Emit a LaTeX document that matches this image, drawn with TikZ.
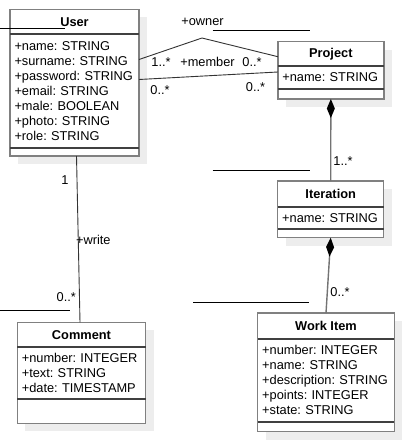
\documentclass[tikz,border=0pt]{standalone}
\usepackage{fontspec}
\setmainfont{Liberation Sans}
\usetikzlibrary{shapes, arrows.meta, positioning, shadows}

\tikzset{
  umlshadow/.style={general shadow={fill=black!7, shadow xshift=8pt, shadow yshift=-8pt}},
  classname/.style={draw=black!50, line width=1.5pt, fill=white, inner sep=0pt, outer sep=0pt, font=\bfseries, umlshadow},
  classattr/.style={draw=black!50, line width=1.5pt, fill=white, inner xsep=4.5pt, inner ysep=0pt, outer sep=0pt, align=left, umlshadow},
  classops/.style={draw=black!50, line width=1.5pt, fill=white, inner sep=0pt, outer sep=0pt, umlshadow},
  sep/.style={draw=black!75, line width=2pt},
  assoc/.style={draw=black!80, line width=0.9pt},
  compose/.style={draw=black!55, line width=1.4pt, {Diamond[length=19pt, width=8pt, black]}-},
  mult/.style={inner sep=0pt},
  stray/.style={draw=black, line width=0.8pt}
}

\begin{document}
\begin{tikzpicture}[x=1pt, y=-1pt, node font=\fontsize{12.8pt}{15pt}\selectfont\frenchspacing]
\useasboundingbox (0,0) rectangle (405,441);

% User
\node[classname, minimum width=129pt, minimum height=25pt] (user) at (74.5,22)
  {User};
\node[classattr, text width=120pt, minimum height=113.5pt, below=0pt of user] (user attrs)
  {+name: STRING\\+surname: STRING\\+password: STRING\\+email: STRING\\+male: BOOLEAN\\+photo: STRING\\+role: STRING};
\node[classops, minimum width=129pt, minimum height=8pt, below=0pt of user attrs] (user ops) {};
\draw[sep] (user.south west) -- (user.south east);
\draw[sep] (user attrs.south west) -- (user attrs.south east);

% Project
\node[classname, minimum width=106pt, minimum height=24.3pt] (proj) at (330.85,53.85)
  {Project};
\node[classattr, text width=97pt, minimum height=23pt, below=0pt of proj] (proj attrs)
  {+name: STRING};
\node[classops, minimum width=106pt, minimum height=10pt, below=0pt of proj attrs] (proj ops) {};
\draw[sep] (proj.south west) -- (proj.south east);
\draw[sep] (proj attrs.south west) -- (proj attrs.south east);

% Iteration
\node[classname, minimum width=106pt, minimum height=25.7pt] (iter) at (330.7,193.85)
  {Iteration};
\node[classattr, text width=97pt, minimum height=22.3pt, below=0pt of iter] (iter attrs)
  {+name: STRING};
\node[classops, minimum width=106pt, minimum height=8.7pt, below=0pt of iter attrs] (iter ops) {};
\draw[sep] (iter.south west) -- (iter.south east);
\draw[sep] (iter attrs.south west) -- (iter attrs.south east);

% Comment
\node[classname, minimum width=128.4pt, minimum height=25pt] (com) at (81.5,334.8)
  {Comment};
\node[classattr, text width=119.4pt, minimum height=52pt, below=0pt of com] (com attrs)
  {+number: INTEGER\\+text: STRING\\+date: TIMESTAMP};
\node[classops, minimum width=128.4pt, minimum height=24pt, below=0pt of com attrs] (com ops) {};
\draw[sep] (com.south west) -- (com.south east);
\draw[sep] (com attrs.south west) -- (com attrs.south east);

% Work Item
\node[classname, minimum width=136.6pt, minimum height=26pt] (work) at (326,326)
  {Work Item};
\node[classattr, text width=127.6pt, minimum height=82.7pt, below=0pt of work] (work attrs)
  {+number: INTEGER\\+name: STRING\\+description: STRING\\+points: INTEGER\\+state: STRING};
\node[classops, minimum width=136.6pt, minimum height=10pt, below=0pt of work attrs] (work ops) {};
\draw[sep] (work.south west) -- (work.south east);
\draw[sep] (work attrs.south west) -- (work attrs.south east);

% associations
\coordinate (bend) at (202,38);
\draw[assoc] ([yshift=-25pt]user attrs.north east) -- (bend) -- ([yshift=-15pt]proj.north west);
\draw[assoc] ([yshift=-45pt]user attrs.north east) -- ([yshift=5.5pt]proj attrs.west);
\draw[compose] (proj ops.south) -- (iter.north);
\draw[compose] (iter ops.south) -- (work.north);
\draw[assoc] ([xshift=2pt]user ops.south) -- ([xshift=-1.5pt]com.north);

% role names and multiplicities
\node[mult] (owner) at (202.5,22) {+owner};
\node[mult] (owner from) at (161,62) {1..*};
\node[mult] (member) at (207.5,62) {+member};
\node[mult] (owner to) at (252,62) {0..*};
\node[mult] (member from) at (160,90) {0..*};
\node[mult] (member to) at (255.5,87.3) {0..*};
\node[mult] (iter mult) at (343,161) {1..*};
\node[mult] (work mult) at (340,292.5) {0..*};
\node[mult] (user mult) at (65,180) {1};
\node[mult] (write) at (93.3,240) {+write};
\node[mult] (com mult) at (66.3,296.7) {0..*};

% loose lines
\draw[stray] (0,28.5) -- (65,28.5);
\draw[stray] (212.7,30) -- (310,30);
\draw[stray] (212.7,170.7) -- (310,170.7);
\draw[stray] (0,310.7) -- (70,310.7);
\draw[stray] (193,302.7) -- (309,302.7);

\end{tikzpicture}
\end{document}
